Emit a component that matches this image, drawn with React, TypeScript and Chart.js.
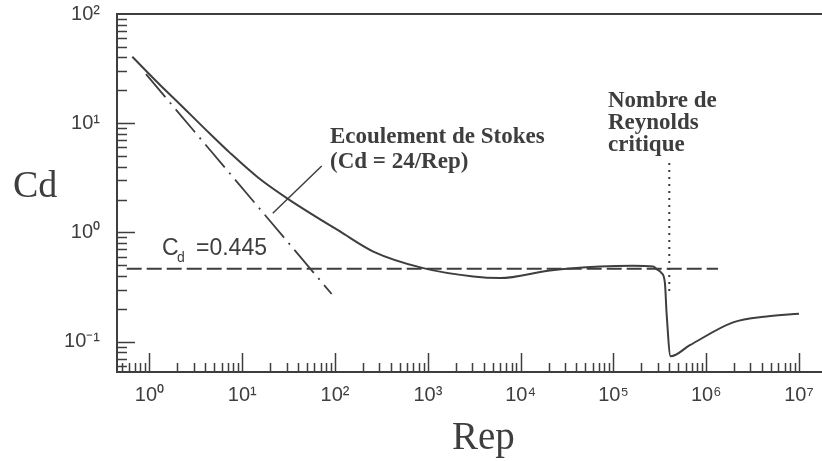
import React, { useEffect, useRef } from 'react';
import { Chart, registerables } from 'chart.js';

Chart.register(...registerables);

const INK = '#3e3e3e';
const SANS = '"Liberation Sans", Arial, Helvetica, sans-serif';
const SERIF = '"Liberation Serif", "Times New Roman", serif';

// Axis ranges
const X_MIN = 0.4465;
const X_MAX = 1.77e7;
const Y_MIN = 0.0527;
const Y_MAX = 100;

// Tick labels
const xTickValues = [1, 10, 100, 1e3, 1e4, 1e5, 1e6, 1e7];
const xTickLabels = ['10⁰', '10¹', '10²', '10³', '10⁴', '10⁵', '10⁶', '10⁷'];
const yTickValues = [0.1, 1, 10, 100];
const yTickLabels = ['10⁻¹', '10⁰', '10¹', '10²'];

// Drag curve Cd(Rep)
const curveRe = [0.653, 1.3, 1.96, 4.49, 7.37, 15, 31.3, 113, 258, 892, 3085, 5980, 20700, 71600, 163000, 268000, 292000, 330000, 359000, 374000, 413000, 667000, 1.95e6, 4.48e6, 1e7];
const curveCd = [40.6, 22.4, 16.0, 8.0, 5.35, 3.15, 2.02, 1.02, 0.668, 0.471, 0.395, 0.382, 0.449, 0.488, 0.496, 0.488, 0.461, 0.425, 0.343, 0.183, 0.0733, 0.0927, 0.150, 0.170, 0.180];

// Stokes line (Cd = 24/Rep)
const stokesRe = [0.917, 91.9];
const stokesCd = [28.1, 0.273];

// Cd = 0.445 reference line
const constRe = [0.568, 1.34e6];
const constCd = [0.465, 0.465];

// Critical Reynolds number marker
const critRe = [4.0e5, 4.0e5];
const critCd = [4.32, 0.279];

// Annotation leader line
const leaderRe = [71.8, 21.3];
const leaderCd = [4.06, 1.5];

const pts = (xs: number[], ys: number[]) => xs.map((x, i) => ({ x, y: ys[i] }));

const labelFor = (values: number[], labels: string[], v: number) => {
  const i = values.findIndex((t) => Math.abs(Math.log10(t) - Math.log10(v)) < 1e-6);
  return i >= 0 ? labels[i] : '';
};

const decorPlugin = {
  id: 'decor',
  afterDraw(chart: any) {
    const ctx = chart.ctx as CanvasRenderingContext2D;
    const { left, right, top, bottom } = chart.chartArea;
    const xs = chart.scales.x;
    const ys = chart.scales.y;
    ctx.save();
    ctx.strokeStyle = INK;
    ctx.lineWidth = 2;
    ctx.beginPath();
    ctx.moveTo(left - 1, top);
    ctx.lineTo(right, top);
    ctx.stroke();

    ctx.lineWidth = 1.5;
    ctx.beginPath();
    for (let d = -1; d <= 7; d++) {
      for (let m = 1; m <= 9; m++) {
        const v = m * Math.pow(10, d);
        if (v < X_MIN || v > X_MAX) continue;
        const px = Math.round(xs.getPixelForValue(v)) + 0.5;
        const len = m === 1 ? 19 : 9;
        ctx.moveTo(px, bottom);
        ctx.lineTo(px, bottom - len);
      }
    }
    for (let d = -2; d <= 2; d++) {
      for (let m = 1; m <= 9; m++) {
        const v = m * Math.pow(10, d);
        if (v < Y_MIN || v >= Y_MAX) continue;
        const py = Math.round(ys.getPixelForValue(v)) + 0.5;
        const len = m === 1 ? 18 : 10;
        ctx.moveTo(left, py);
        ctx.lineTo(left + len, py);
      }
    }
    ctx.stroke();

    ctx.fillStyle = INK;
    ctx.textAlign = 'left';
    ctx.textBaseline = 'alphabetic';
    ctx.font = `bold 23px ${SERIF}`;
    ctx.fillText('Ecoulement de Stokes', 330, 143);
    ctx.fillText('(Cd = 24/Rep)', 330, 168);
    ctx.fillText('Nombre de', 608, 106.5);
    ctx.fillText('Reynolds', 608, 128.5);
    ctx.fillText('critique', 608, 151);

    ctx.font = `23px ${SANS}`;
    ctx.fillText('C', 162, 255);
    ctx.fillText('=0.445', 196, 255);
    ctx.font = `14px ${SANS}`;
    ctx.fillText('d', 177, 262);

    ctx.font = `38px ${SERIF}`;
    ctx.fillText('Cd', 13, 197);
    ctx.font = `39px ${SERIF}`;
    ctx.fillText('Rep', 452, 449);
    ctx.restore();
  },
};

export default function App() {
  const ref = useRef<HTMLCanvasElement | null>(null);
  useEffect(() => {
    if (!ref.current) return;
    const base = { pointRadius: 0, fill: false, borderColor: INK, tension: 0 };
    const chart = new Chart(ref.current, {
      type: 'line',
      data: {
        datasets: [
          { ...base, data: pts(curveRe, curveCd), borderWidth: 2, cubicInterpolationMode: 'monotone' } as any,
          { ...base, data: pts(stokesRe, stokesCd), borderWidth: 1.8, borderDash: [30, 7, 2, 7] },
          { ...base, data: pts(constRe, constCd), borderWidth: 2, borderDash: [15, 5] },
          { ...base, data: pts(critRe, critCd), borderWidth: 2, borderDash: [2, 5] },
          { ...base, data: pts(leaderRe, leaderCd), borderWidth: 1.5 },
        ],
      },
      options: {
        responsive: false,
        animation: false,
        devicePixelRatio: 1,
        parsing: false as any,
        layout: { padding: { top: 14, left: 0, right: 0, bottom: 0 } },
        plugins: { legend: { display: false }, tooltip: { enabled: false } },
        scales: {
          x: {
            type: 'logarithmic',
            min: X_MIN,
            max: X_MAX,
            grid: { display: false, drawTicks: false },
            border: { display: true, color: INK, width: 2 },
            ticks: {
              padding: 11,
              color: INK,
              autoSkip: false,
              maxRotation: 0,
              font: { family: SANS, size: 20 },
              callback: (v: any) => labelFor(xTickValues, xTickLabels, Number(v)),
            },
            afterBuildTicks: (s: any) => {
              s.ticks = xTickValues.map((value) => ({ value }));
            },
            afterFit: (s: any) => {
              s.height = 89;
              s.paddingLeft = 0;
              s.paddingRight = 0;
            },
          },
          y: {
            type: 'logarithmic',
            min: Y_MIN,
            max: Y_MAX,
            grid: { display: false, drawTicks: false },
            border: { display: true, color: INK, width: 2 },
            ticks: {
              padding: 17,
              color: INK,
              autoSkip: false,
              font: { family: SANS, size: 20 },
              callback: (v: any) => labelFor(yTickValues, yTickLabels, Number(v)),
            },
            afterBuildTicks: (s: any) => {
              s.ticks = yTickValues.map((value) => ({ value }));
            },
            afterFit: (s: any) => {
              s.width = 117;
              s.paddingTop = 0;
              s.paddingBottom = 0;
            },
          },
        },
      } as any,
      plugins: [decorPlugin],
    });
    return () => chart.destroy();
  }, []);
  return (
    <canvas
      ref={ref}
      width={822}
      height={461}
      style={{ position: 'fixed', left: 0, top: 0, display: 'block', background: '#fff' }}
    />
  );
}
